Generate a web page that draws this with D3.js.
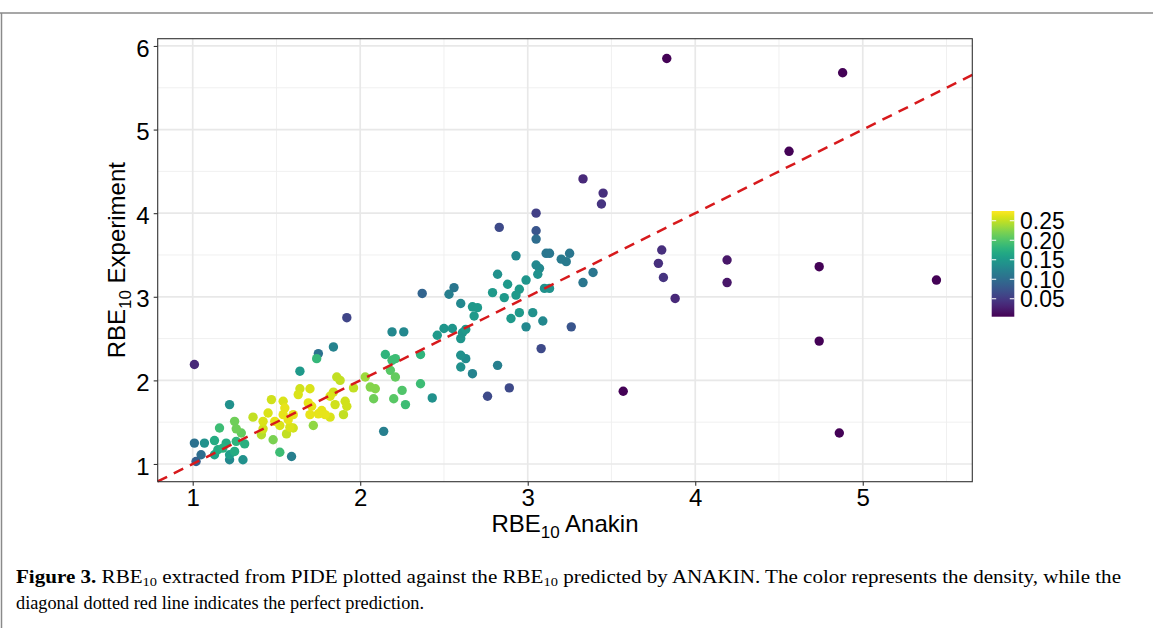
<!DOCTYPE html>
<html>
<head>
<meta charset="utf-8">
<script src="https://cdn.jsdelivr.net/npm/d3@7"></script>
<style>
  html, body { margin: 0; padding: 0; background: #fff; }
  svg { display: block; }
</style>
</head>
<body>
<svg id="chart" width="1153" height="628"></svg>
<script>
// RBE10 predicted by ANAKIN (x), measured in PIDE (y), point density (colour)
const anakin = [
  3.83, 4.88, 4.56, 5.44, 4.74, 4.74, 4.86, 3.57, 4.19, 4.19,
  3.80, 3.78, 3.81, 3.88, 3.33, 3.45, 3.44, 3.26, 3.25, 3.23,
  3.20, 3.39, 3.33, 3.05, 2.83, 3.05, 3.05, 2.93, 3.11, 3.13,
  3.05, 3.07, 3.06, 2.82, 2.99, 2.88, 2.95, 3.10, 3.13, 2.79,
  2.93, 2.86, 2.56, 2.53, 2.60, 2.67, 2.70, 2.68, 2.95, 2.90,
  3.03, 3.09, 2.99, 2.50, 2.55, 2.63, 2.61, 2.60, 3.08, 2.60,
  2.63, 2.60, 2.82, 2.67, 2.89, 2.76, 2.37, 1.92, 2.19, 2.26,
  2.46, 1.84, 2.15, 2.21, 2.19, 2.36, 2.18, 2.21, 2.03, 1.86,
  1.88, 1.96, 2.06, 2.09, 2.25, 2.36, 2.08, 2.20, 2.27, 2.43,
  1.84, 1.85, 1.91, 1.92, 1.90, 1.75, 1.74, 1.64, 1.64, 1.70,
  1.63, 1.47, 1.54, 1.55, 1.69, 1.71, 1.82, 1.77, 1.79, 1.75,
  1.82, 1.70, 1.72, 1.60, 1.54, 1.45, 1.36, 1.42, 1.49, 1.57,
  1.52, 1.58, 1.60, 1.42, 1.41, 1.48, 1.56, 2.14, 1.22, 1.25,
  1.16, 1.26, 1.29, 1.52, 1.59, 1.01, 1.07, 1.13, 1.20, 1.26,
  1.31, 1.15, 1.13, 1.18, 1.25, 1.22, 1.05, 1.02, 1.22, 1.30,
  1.01
];
const experiment = [
  5.85, 5.68, 4.74, 3.20, 3.36, 2.47, 1.37, 1.87, 3.44, 3.17,
  3.56, 3.40, 3.23, 2.98, 4.41, 4.24, 4.11, 2.64, 3.52, 3.42,
  3.45, 3.29, 3.17, 4.00, 3.83, 3.79, 3.69, 3.49, 3.52, 3.52,
  3.38, 3.34, 3.27, 3.27, 3.20, 3.15, 3.09, 3.10, 3.10, 3.05,
  3.02, 2.99, 3.11, 3.03, 2.92, 2.88, 2.87, 2.77, 2.81, 2.74,
  2.81, 2.71, 2.64, 2.62, 2.62, 2.61, 2.57, 2.50, 2.38, 2.30,
  2.26, 2.16, 2.18, 2.08, 1.91, 1.81, 3.04, 2.75, 2.58, 2.58,
  2.54, 2.40, 2.31, 2.26, 2.24, 2.31, 2.12, 2.04, 2.04, 2.04,
  2.00, 1.91, 1.92, 1.90, 1.88, 1.96, 1.78, 1.78, 1.71, 1.79,
  1.86, 1.71, 1.75, 1.69, 1.59, 2.32, 2.26, 2.11, 1.90, 1.90,
  1.83, 1.77, 1.75, 1.67, 1.73, 1.69, 1.81, 1.64, 1.59, 1.60,
  1.56, 1.59, 1.46, 1.59, 1.59, 1.61, 1.56, 1.51, 1.51, 1.53,
  1.46, 1.44, 1.43, 1.42, 1.35, 1.29, 1.36, 1.39, 1.71, 1.51,
  1.43, 1.42, 1.37, 1.14, 1.09, 1.25, 1.25, 1.28, 1.25, 1.27,
  1.24, 1.17, 1.11, 1.19, 1.15, 1.11, 1.11, 1.03, 1.05, 1.05,
  2.19
];
const density = [
  0.006, 0.006, 0.006, 0.006, 0.006, 0.006, 0.006, 0.006, 0.02, 0.02,
  0.04, 0.04, 0.045, 0.035, 0.035, 0.04, 0.045, 0.075, 0.11, 0.115,
  0.115, 0.11, 0.11, 0.055, 0.065, 0.075, 0.10, 0.13, 0.11, 0.11,
  0.13, 0.13, 0.14, 0.14, 0.145, 0.15, 0.15, 0.14, 0.14, 0.15,
  0.15, 0.15, 0.11, 0.12, 0.13, 0.15, 0.15, 0.15, 0.15, 0.15,
  0.14, 0.13, 0.13, 0.145, 0.145, 0.15, 0.145, 0.145, 0.065, 0.14,
  0.135, 0.14, 0.12, 0.125, 0.065, 0.065, 0.09, 0.06, 0.13, 0.13,
  0.15, 0.125, 0.18, 0.19, 0.19, 0.18, 0.205, 0.21, 0.235, 0.25,
  0.25, 0.25, 0.225, 0.225, 0.20, 0.19, 0.215, 0.205, 0.19, 0.14,
  0.255, 0.255, 0.255, 0.255, 0.25, 0.105, 0.185, 0.15, 0.255, 0.26,
  0.26, 0.255, 0.26, 0.265, 0.265, 0.265, 0.26, 0.265, 0.265, 0.265,
  0.26, 0.265, 0.23, 0.265, 0.265, 0.26, 0.25, 0.26, 0.265, 0.265,
  0.26, 0.26, 0.255, 0.255, 0.245, 0.22, 0.25, 0.12, 0.14, 0.215,
  0.19, 0.215, 0.21, 0.19, 0.12, 0.105, 0.14, 0.17, 0.17, 0.18,
  0.175, 0.17, 0.16, 0.175, 0.17, 0.155, 0.10, 0.085, 0.13, 0.14,
  0.035
];

const xTicks = [1, 2, 3, 4, 5];
const yTicks = [1, 2, 3, 4, 5, 6];
const densityTicks = [0.05, 0.10, 0.15, 0.20, 0.25];

const svg = d3.select('#chart');
const panel = { left: 157.7, right: 972.3, top: 38.7, bottom: 481.7 };

const x = d3.scaleLinear().domain([0.791, 5.654]).range([panel.left, panel.right]);
const y = d3.scaleLinear().domain([0.788, 6.087]).range([panel.bottom, panel.top]);
const colour = d3.scaleSequential(d3.interpolateViridis).domain([0.004, 0.275]);

const labelFont = '"Liberation Sans", Arial, sans-serif';

// page frame
svg.append('line').attr('x1', 0).attr('x2', 1153).attr('y1', 13).attr('y2', 13)
  .attr('stroke', '#8a8a8a').attr('stroke-width', 1.5);
svg.append('line').attr('x1', 1.5).attr('x2', 1.5).attr('y1', 13).attr('y2', 628)
  .attr('stroke', '#8a8a8a').attr('stroke-width', 1.5);

// grid
const minorX = d3.range(1.5, 5.6, 1);
const minorY = d3.range(1.5, 6, 1);
const grid = svg.append('g');
grid.selectAll('.mx').data(minorX).join('line')
  .attr('x1', (d) => x(d)).attr('x2', (d) => x(d))
  .attr('y1', panel.top).attr('y2', panel.bottom)
  .attr('stroke', '#eeeeee').attr('stroke-width', 0.9);
grid.selectAll('.my').data(minorY).join('line')
  .attr('x1', panel.left).attr('x2', panel.right)
  .attr('y1', (d) => y(d)).attr('y2', (d) => y(d))
  .attr('stroke', '#eeeeee').attr('stroke-width', 0.9);
grid.selectAll('.gx').data(xTicks).join('line')
  .attr('x1', (d) => x(d)).attr('x2', (d) => x(d))
  .attr('y1', panel.top).attr('y2', panel.bottom)
  .attr('stroke', '#e8e8e8').attr('stroke-width', 1.7);
grid.selectAll('.gy').data(yTicks).join('line')
  .attr('x1', panel.left).attr('x2', panel.right)
  .attr('y1', (d) => y(d)).attr('y2', (d) => y(d))
  .attr('stroke', '#e8e8e8').attr('stroke-width', 1.7);

// points, densest drawn last
const points = anakin.map((a, i) => ({ a, e: experiment[i], d: density[i] }))
  .sort((p, q) => p.d - q.d);

svg.append('g').selectAll('circle').data(points).join('circle')
  .attr('cx', (d) => x(d.a))
  .attr('cy', (d) => y(d.e))
  .attr('r', 4.7)
  .attr('fill', (d) => colour(d.d));

// perfect prediction line
const lo = x.domain()[0];
const hi = x.domain()[1];
svg.append('line')
  .attr('x1', x(lo)).attr('y1', y(lo))
  .attr('x2', x(hi)).attr('y2', y(hi))
  .attr('stroke', '#d7191c').attr('stroke-width', 2.5)
  .attr('stroke-dasharray', '10.5,7.5');

// panel border
svg.append('rect')
  .attr('x', panel.left).attr('y', panel.top)
  .attr('width', panel.right - panel.left).attr('height', panel.bottom - panel.top)
  .attr('fill', 'none').attr('stroke', '#333').attr('stroke-width', 1.1);

// axes
const xAxis = svg.append('g')
  .attr('transform', `translate(0,${panel.bottom})`)
  .call(d3.axisBottom(x).tickValues(xTicks).tickSize(4).tickPadding(4).tickFormat(d3.format('d')));
const yAxis = svg.append('g')
  .attr('transform', `translate(${panel.left},0)`)
  .call(d3.axisLeft(y).tickValues(yTicks).tickSize(4).tickPadding(4).tickFormat(d3.format('d')));

[xAxis, yAxis].forEach((g) => {
  g.select('.domain').remove();
  g.selectAll('.tick line').attr('stroke', '#333').attr('stroke-width', 1.1);
  g.selectAll('.tick text')
    .attr('fill', '#000')
    .style('font-family', labelFont)
    .style('font-size', '24px');
});
yAxis.selectAll('.tick text').attr('dy', '0.42em');
xAxis.selectAll('.tick text').attr('dy', '0.7em');

const xLabel = svg.append('text')
  .attr('x', (panel.left + panel.right) / 2).attr('y', 532)
  .attr('text-anchor', 'middle')
  .style('font-family', labelFont).style('font-size', '24px');
xLabel.append('tspan').text('RBE');
xLabel.append('tspan').attr('dy', 6).style('font-size', '17px').text('10');
xLabel.append('tspan').attr('dy', -6).text(' Anakin');

const yLabel = svg.append('text')
  .attr('transform', `translate(125,${(panel.top + panel.bottom) / 2}) rotate(-90)`)
  .attr('text-anchor', 'middle')
  .style('font-family', labelFont).style('font-size', '24px');
yLabel.append('tspan').text('RBE');
yLabel.append('tspan').attr('dy', 6).style('font-size', '17px').text('10');
yLabel.append('tspan').attr('dy', -6).text(' Experiment');

// colour bar legend
const bar = { x: 991.7, y: 211, w: 22.6, h: 105.7 };
const legendScale = d3.scaleLinear().domain(colour.domain()).range([bar.y + bar.h, bar.y]);

const gradient = svg.append('defs').append('linearGradient')
  .attr('id', 'viridis').attr('x1', 0).attr('x2', 0).attr('y1', 1).attr('y2', 0);
gradient.selectAll('stop').data(d3.range(0, 1.0001, 0.05)).join('stop')
  .attr('offset', (d) => d)
  .attr('stop-color', (d) => d3.interpolateViridis(d));

svg.append('rect')
  .attr('x', bar.x).attr('y', bar.y).attr('width', bar.w).attr('height', bar.h)
  .attr('fill', 'url(#viridis)');

const legendTicks = svg.append('g');
legendTicks.selectAll('.tl').data(densityTicks).join('line')
  .attr('x1', bar.x).attr('x2', bar.x + 4.5)
  .attr('y1', (d) => legendScale(d)).attr('y2', (d) => legendScale(d))
  .attr('stroke', '#fff').attr('stroke-width', 1);
legendTicks.selectAll('.tr').data(densityTicks).join('line')
  .attr('x1', bar.x + bar.w - 4.5).attr('x2', bar.x + bar.w)
  .attr('y1', (d) => legendScale(d)).attr('y2', (d) => legendScale(d))
  .attr('stroke', '#fff').attr('stroke-width', 1);
legendTicks.selectAll('text').data(densityTicks).join('text')
  .attr('x', 1020).attr('y', (d) => legendScale(d))
  .attr('dy', '0.36em')
  .style('font-family', labelFont).style('font-size', '23px')
  .text((d) => d3.format('.2f')(d));

// caption
const captionFont = '"Liberation Serif", "DejaVu Serif", serif';
const line1 = svg.append('text')
  .attr('x', 16).attr('y', 583)
  .attr('textLength', 1105).attr('lengthAdjust', 'spacingAndGlyphs')
  .style('font-family', captionFont).style('font-size', '19px');
line1.append('tspan').style('font-weight', 'bold').text('Figure 3.');
line1.append('tspan').text(' RBE');
line1.append('tspan').attr('dy', 3).style('font-size', '13px').text('10');
line1.append('tspan').attr('dy', -3).text(' extracted from PIDE plotted against the RBE');
line1.append('tspan').attr('dy', 3).style('font-size', '13px').text('10');
line1.append('tspan').attr('dy', -3)
  .text(' predicted by ANAKIN. The color represents the density, while the');

svg.append('text')
  .attr('x', 16).attr('y', 609)
  .attr('textLength', 408).attr('lengthAdjust', 'spacingAndGlyphs')
  .style('font-family', captionFont).style('font-size', '19px')
  .text('diagonal dotted red line indicates the perfect prediction.');
</script>
</body>
</html>
